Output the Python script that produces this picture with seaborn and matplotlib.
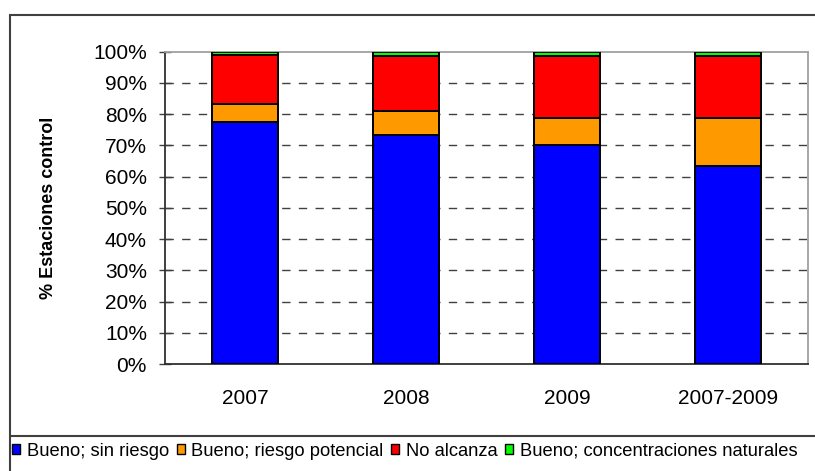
import matplotlib
matplotlib.use("Agg")
import matplotlib.pyplot as plt
from matplotlib.patches import Rectangle, Patch
from matplotlib.lines import Line2D
from matplotlib.ticker import FixedLocator, PercentFormatter
import seaborn as sns
import numpy as np
import pandas as pd

# data (percent of control stations)
periods = ['2007', '2008', '2009', '2007-2009']
bueno_sin_riesgo = [77.5, 73.2, 70.0, 63.3]
bueno_riesgo_potencial = [5.7, 7.9, 8.6, 15.3]
no_alcanza = [15.8, 17.6, 20.1, 20.1]
bueno_naturales = [1.0, 1.3, 1.3, 1.3]

series_names = ['Bueno; sin riesgo', 'Bueno; riesgo potencial',
                'No alcanza', 'Bueno; concentraciones naturales']
series_values = [bueno_sin_riesgo, bueno_riesgo_potencial, no_alcanza, bueno_naturales]
series_colors = ['#0000FF', '#FF9900', '#FF0000', '#00FF00']

sns.set_theme(style="white")
plt.rcParams['font.family'] = ['Liberation Sans', 'DejaVu Sans']
plt.rcParams['text.color'] = 'black'
plt.rcParams['xtick.color'] = 'black'
plt.rcParams['ytick.color'] = 'black'
plt.rcParams['axes.labelcolor'] = 'black'

fig = plt.figure(figsize=(8.15, 4.71), dpi=100)
ax = fig.add_axes([165 / 815, 1 - 364 / 471, (808 - 165) / 815, (364 - 51.5) / 471])

bottom = np.zeros(len(periods))
for name, vals, col in zip(series_names, series_values, series_colors):
    df = pd.DataFrame({'period': periods, 'value': vals})
    sns.barplot(data=df, x='period', y='value', bottom=bottom, color=col,
                width=0.41, edgecolor='black', linewidth=1.4, ax=ax,
                saturation=1, zorder=3)
    bottom = bottom + np.array(vals)

ax.set_ylim(0, 100)
ax.set_xlim(-0.5, len(periods) - 0.5)
ax.yaxis.set_major_locator(FixedLocator(np.arange(0, 101, 10)))
ax.yaxis.set_major_formatter(PercentFormatter(decimals=0))
for y in range(10, 100, 10):
    ax.axhline(y, color='#404040', linestyle=(0, (6, 6)), linewidth=1.0, zorder=1)

# category boundary ticks (Excel style)
ax.set_xticks(np.arange(len(periods)))
ax.set_xticklabels(periods, fontsize=15)
ax.xaxis.set_minor_locator(FixedLocator(np.arange(-0.5, len(periods), 1)))
ax.tick_params(axis='x', which='major', length=0, pad=18)
ax.tick_params(axis='x', which='minor', length=7, width=1, color='#404040', direction='out')
ax.tick_params(axis='y', length=8, width=1, color='#404040', direction='inout', labelsize=15, left=True, pad=9)
ax.set_xlabel('')
ax.set_ylabel('% Estaciones control', fontsize=13, fontweight='bold', labelpad=26)

for side in ['left', 'bottom']:
    ax.spines[side].set_color('#303030')
    ax.spines[side].set_linewidth(1.3)
for side in ['top', 'right']:
    ax.spines[side].set_color('#A0A0A0')
    ax.spines[side].set_linewidth(1.3)

# outer chart frame and legend box
fig.add_artist(Rectangle((9.5 / 815, -0.05), 1.2, 1 - 15 / 471 + 0.05, transform=fig.transFigure,
                         fill=False, edgecolor='#404040', linewidth=1.5))
fig.add_artist(Line2D([9.5 / 815, 1.0], [1 - 435.5 / 471] * 2, transform=fig.transFigure,
                      color='#404040', linewidth=1.5))

handles = [Patch(facecolor=c, edgecolor='black', linewidth=1.0) for c in series_colors]
fig.legend(handles, series_names, loc='center left', bbox_to_anchor=(12 / 815, 1 - 451 / 471),
           ncol=4, frameon=False, fontsize=13.2, handlelength=0.45, handleheight=0.5,
           handletextpad=0.35, columnspacing=0.42, borderaxespad=0, borderpad=0)

fig.savefig('out.png', dpi=100)
